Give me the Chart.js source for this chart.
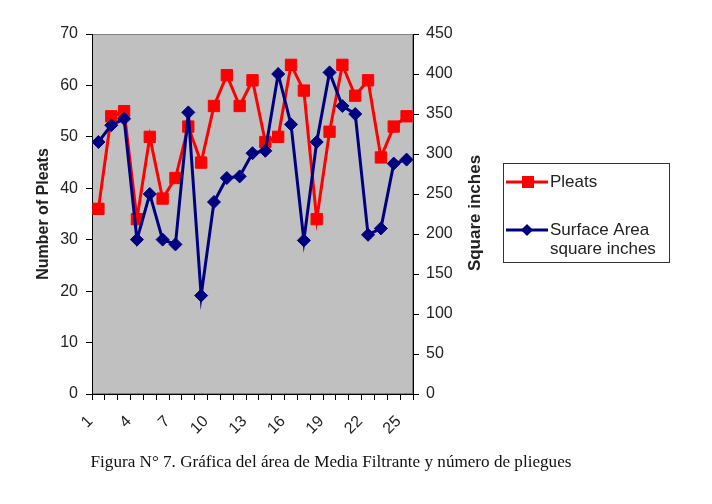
<!DOCTYPE html>
<html>
<head>
<meta charset="utf-8">
<script src="https://cdn.jsdelivr.net/npm/chart.js@4/dist/chart.umd.min.js"></script>
<style>
  html, body { margin: 0; padding: 0; background: #fff; }
</style>
</head>
<body>
<canvas id="pleatsChart" width="712" height="504"></canvas>
<script>
// values
const categories = ['1', '2', '3', '4', '5', '6', '7', '8', '9', '10', '11', '12', '13',
                    '14', '15', '16', '17', '18', '19', '20', '21', '22', '23', '24', '25'];
const pleats = [36, 54, 55, 34, 50, 38, 42, 52, 45, 56, 62, 56, 61,
                49, 50, 64, 59, 34, 51, 64, 58, 61, 46, 52, 54];
const surfaceArea = [315, 336, 344, 193, 250, 193, 187, 352, 123, 240, 270, 272, 301,
                     304, 400, 337, 192, 315, 402, 360, 350, 199, 207, 288, 293];
const xTickLabels = ['1', '4', '7', '10', '13', '16', '19', '22', '25'];
const captionText = 'Figura N\u00b0 7. Gr\u00e1fica del \u00e1rea de Media Filtrante y n\u00famero de pliegues';

const SANS = '"Liberation Sans", Arial, sans-serif';
const TEXT = '#222';

// gray plot area, legend box, right title and caption
const paperPlugin = {
    id: 'paper',
    beforeDraw(chart) {
        const { ctx, chartArea: a } = chart;
        ctx.save();
        ctx.fillStyle = '#fff';
        ctx.fillRect(0, 0, chart.width, chart.height);
        ctx.fillStyle = '#c0c0c0';
        ctx.fillRect(a.left, a.top, a.right - a.left, a.bottom - a.top);
        ctx.strokeStyle = '#808080';
        ctx.lineWidth = 1;
        ctx.strokeRect(a.left + 0.5, a.top + 0.5, a.right - a.left - 1, a.bottom - a.top - 1);
        ctx.restore();
    },
    afterDraw(chart) {
        const ctx = chart.ctx;
        const ds = chart.data.datasets;
        ctx.save();

        // legend
        ctx.strokeStyle = '#333';
        ctx.lineWidth = 1;
        ctx.strokeRect(503.5, 163.5, 166, 99);
        ctx.font = '17px ' + SANS;
        ctx.textBaseline = 'middle';
        ctx.textAlign = 'left';
        const rows = [182, 230];
        ds.forEach((d, i) => {
            const y = rows[i];
            ctx.strokeStyle = d.borderColor;
            ctx.fillStyle = d.backgroundColor;
            ctx.lineWidth = 3;
            ctx.beginPath();
            ctx.moveTo(506, y);
            ctx.lineTo(548, y);
            ctx.stroke();
            if (d.pointStyle === 'rect') {
                ctx.fillRect(522, y - 6, 12, 12);
            } else {
                ctx.beginPath();
                ctx.moveTo(527, y - 6);
                ctx.lineTo(533, y);
                ctx.lineTo(527, y + 6);
                ctx.lineTo(521, y);
                ctx.closePath();
                ctx.fill();
            }
            ctx.fillStyle = TEXT;
            const lines = Array.isArray(d.label) ? d.label : [d.label];
            lines.forEach((t, k) => ctx.fillText(t, 550, y + k * 19));
        });

        // right axis title, reads bottom to top
        ctx.save();
        ctx.translate(475, 213);
        ctx.rotate(-Math.PI / 2);
        ctx.font = 'bold 17px ' + SANS;
        ctx.textAlign = 'center';
        ctx.fillStyle = TEXT;
        ctx.fillText('Square inches', 0, 0);
        ctx.restore();

        // caption (the scanned figure is a little stretched sideways)
        ctx.save();
        ctx.translate(331, 463);
        ctx.scale(1.07, 1);
        ctx.font = '16px "Liberation Serif", "Times New Roman", serif';
        ctx.textAlign = 'center';
        ctx.fillStyle = '#111';
        ctx.fillText(captionText, 0, 0);
        ctx.restore();

        ctx.restore();
    }
};

const ctx = document.getElementById('pleatsChart');
const chart = new Chart(ctx, {
    type: 'line',
    data: {
        labels: categories,
        datasets: [
            {
                label: 'Pleats',
                data: pleats,
                yAxisID: 'y',
                borderColor: '#ff0000',
                backgroundColor: '#ff0000',
                borderWidth: 3,
                pointStyle: 'rect',
                pointRadius: 8,
                pointBorderWidth: 1,
                order: 1
            },
            {
                label: ['Surface Area', 'square inches'],
                data: surfaceArea,
                yAxisID: 'y1',
                borderColor: '#000080',
                backgroundColor: '#000080',
                borderWidth: 3,
                pointStyle: 'rectRot',
                pointRadius: 6.5,
                pointBorderWidth: 1,
                order: 0
            }
        ]
    },
    options: {
        responsive: false,
        animation: false,
        layout: {
            padding: { left: 0, right: 224, top: 34, bottom: 60 }
        },
        plugins: {
            legend: { display: false },
            tooltip: { enabled: false }
        },
        scales: {
            x: {
                offset: true,
                grid: { offset: true, drawOnChartArea: false, tickLength: 6, color: '#000' },
                border: { color: '#000', width: 1 },
                ticks: {
                    autoSkip: false,
                    minRotation: 45,
                    maxRotation: 45,
                    padding: 12,
                    labelOffset: -8,
                    color: TEXT,
                    font: { size: 16, family: SANS },
                    callback: function(v) {
                        const l = this.getLabelForValue(v);
                        return xTickLabels.includes(l) ? l : '';
                    }
                },
                afterFit(s) { s.height = 50; }
            },
            y: {
                position: 'left',
                min: 0,
                max: 70,
                ticks: { stepSize: 10, color: TEXT, font: { size: 16, family: SANS }, padding: 8 },
                grid: { drawOnChartArea: false, tickLength: 6, color: '#000' },
                border: { color: '#000', width: 1 },
                title: {
                    display: true,
                    text: 'Number of Pleats',
                    color: TEXT,
                    font: { size: 16, weight: 'bold', family: SANS },
                    padding: { top: 34, bottom: 0 }
                },
                afterFit(s) { s.width = 92; }
            },
            y1: {
                position: 'right',
                min: 0,
                max: 450,
                ticks: { stepSize: 50, color: TEXT, font: { size: 16, family: SANS }, padding: 7 },
                grid: { drawOnChartArea: false, tickLength: 6, color: '#000' },
                border: { color: '#000', width: 1 },
                afterFit(s) { s.width = 75; }
            }
        }
    },
    plugins: [paperPlugin]
});
</script>
</body>
</html>
